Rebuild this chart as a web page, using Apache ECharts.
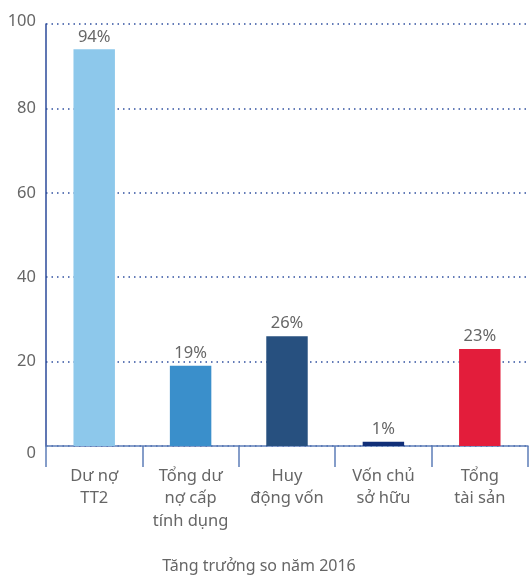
<!DOCTYPE html>
<html><head><meta charset="utf-8">
<script src="https://cdn.jsdelivr.net/npm/echarts@6/dist/echarts.min.js"></script>
<style>html,body{margin:0;padding:0;background:#fff}#c{width:530px;height:576px}</style>
</head><body><div id="c"></div>
<script>
const categories = ["Dư nợ\nTT2", "Tổng dư\nnợ cấp\ntính dụng", "Huy\nđộng vốn", "Vốn chủ\nsở hữu", "Tổng\ntài sản"];
const values = [94, 19, 26, 1, 23];
const barColors = ["#8DC8EB", "#3A8FCB", "#27507F", "#112F78", "#E31D3B"];
const yTicks = [0, 20, 40, 60, 80, 100];
const titleText = "Tăng trưởng so năm 2016";
const FONT = "Noto Sans";
const chart = echarts.init(document.getElementById('c'), null, {renderer: 'canvas'});
chart.setOption({
  animation: false,
  textStyle: {fontFamily: FONT},
  title: {text: titleText, left: 254, top: 553, textAlign: 'center',
    textStyle: {fontFamily: FONT, fontSize: 16, fontWeight: 'normal', color: '#666'}},
  grid: {left: 46, right: 2, top: 24, bottom: 130, containLabel: false},
  xAxis: {type: 'category', data: categories,
    axisLine: {lineStyle: {color: '#5E7DB8', width: 1.5}},
    axisTick: {show: true, length: 21, lineStyle: {color: '#5E7DB8', width: 1.5}},
    axisLabel: {fontFamily: FONT, fontSize: 16.5, color: '#666', lineHeight: 22.5, margin: 19, interval: 0}},
  yAxis: {type: 'value', min: yTicks[0], max: yTicks[yTicks.length-1], interval: 20,
    axisLine: {show: true, lineStyle: {color: '#2B4A9A', width: 1.5}},
    axisTick: {show: false},
    axisLabel: {fontFamily: FONT, fontSize: 16.5, color: '#666', margin: 10,
      formatter: v => v === 0 ? '{z|0}' : (v === 100 ? '{t|100}' : String(v)),
      rich: {z: {fontFamily: FONT, fontSize: 16.5, color: '#666', padding: [14, 0, 0, 0]},
             t: {fontFamily: FONT, fontSize: 16.5, color: '#666', padding: [0, 0, 6, 0]}}},
    splitLine: {show: true, lineStyle: {color: '#3050A0', type: [1.5, 4], width: 1.5}}},
  series: [{type: 'bar', barWidth: '43%',
    data: values.map((v, i) => ({value: v, itemStyle: {color: barColors[i]}})),
    label: {show: true, position: 'top', distance: 4, formatter: '{c}%', fontFamily: FONT, fontSize: 16.5, color: '#666'}}]
});
</script></body></html>
